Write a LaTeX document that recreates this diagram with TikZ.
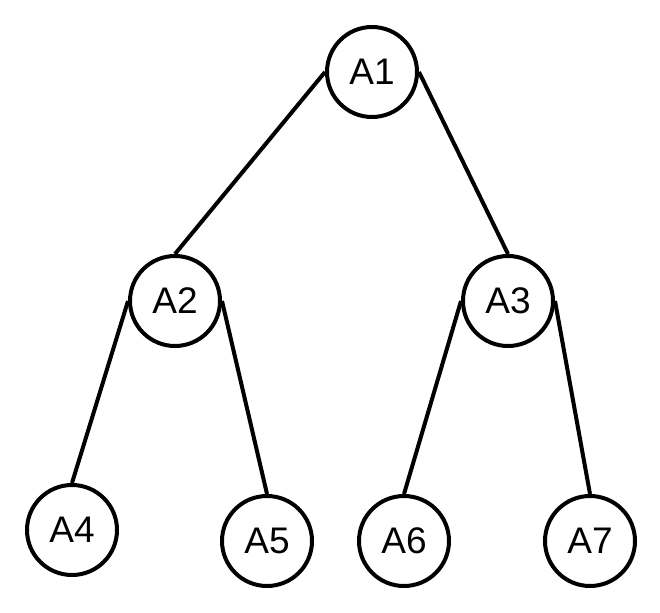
\documentclass[tikz,border=0pt]{standalone}
\usepackage{fontspec}
\setmainfont{Liberation Sans}
\usepackage{tikz}
\usetikzlibrary{positioning}

\begin{document}
\begin{tikzpicture}[
    x=1pt,y=-1pt,
    vertex/.style={draw,circle,line width=4pt,minimum size=90pt,inner sep=0pt,font=\fontsize{37}{40}\selectfont},
    edge/.style={line width=4pt}
  ]
    \useasboundingbox (0,0) rectangle (660,612);
    \node[vertex] (a1) at (372,72)  {A1};
    \node[vertex] (a2) at (175,301) {A2};
    \node[vertex] (a3) at (508,301) {A3};
    \node[vertex] (a4) at (72,530)  {A4};
    \node[vertex] (a5) at (267,541) {A5};
    \node[vertex] (a6) at (404,541) {A6};
    \node[vertex] (a7) at (590,541) {A7};
    \draw[edge] (a1.west) -- (a2.north);
    \draw[edge] (a1.east) -- (a3.north);
    \draw[edge] (a2.west) -- (a4.north);
    \draw[edge] (a2.east) -- (a5.north);
    \draw[edge] (a3.west) -- (a6.north);
    \draw[edge] (a3.east) -- (a7.north);
  \end{tikzpicture}
\end{document}
